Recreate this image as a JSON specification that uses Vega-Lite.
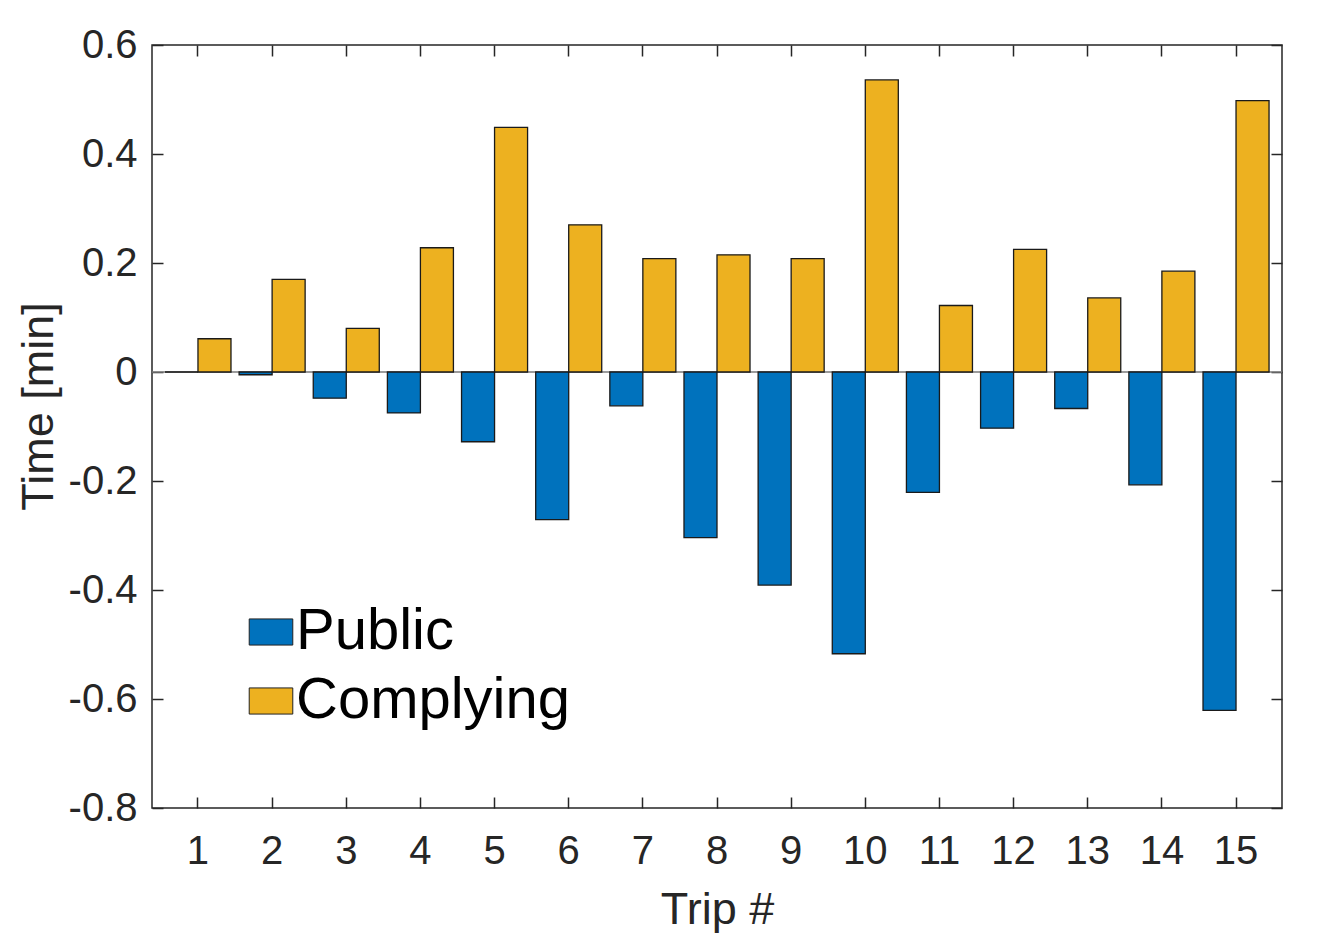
{
  "$schema": "https://vega.github.io/schema/vega-lite/v6.json",
  "width": 1130,
  "height": 763,
  "autosize": {"type": "none"},
  "padding": {"left": 152, "top": 45, "right": 56, "bottom": 127},
  "background": "white",
  "data": {
    "values": [
      {"trip": 1, "series": "Public", "time": 0},
      {"trip": 1, "series": "Complying", "time": 0.061},
      {"trip": 2, "series": "Public", "time": -0.005},
      {"trip": 2, "series": "Complying", "time": 0.17},
      {"trip": 3, "series": "Public", "time": -0.048},
      {"trip": 3, "series": "Complying", "time": 0.08},
      {"trip": 4, "series": "Public", "time": -0.075},
      {"trip": 4, "series": "Complying", "time": 0.228},
      {"trip": 5, "series": "Public", "time": -0.128},
      {"trip": 5, "series": "Complying", "time": 0.449},
      {"trip": 6, "series": "Public", "time": -0.271},
      {"trip": 6, "series": "Complying", "time": 0.27},
      {"trip": 7, "series": "Public", "time": -0.062},
      {"trip": 7, "series": "Complying", "time": 0.208},
      {"trip": 8, "series": "Public", "time": -0.304},
      {"trip": 8, "series": "Complying", "time": 0.215},
      {"trip": 9, "series": "Public", "time": -0.391},
      {"trip": 9, "series": "Complying", "time": 0.208},
      {"trip": 10, "series": "Public", "time": -0.517},
      {"trip": 10, "series": "Complying", "time": 0.536},
      {"trip": 11, "series": "Public", "time": -0.221},
      {"trip": 11, "series": "Complying", "time": 0.122},
      {"trip": 12, "series": "Public", "time": -0.103},
      {"trip": 12, "series": "Complying", "time": 0.225},
      {"trip": 13, "series": "Public", "time": -0.067},
      {"trip": 13, "series": "Complying", "time": 0.136},
      {"trip": 14, "series": "Public", "time": -0.207},
      {"trip": 14, "series": "Complying", "time": 0.185},
      {"trip": 15, "series": "Public", "time": -0.621},
      {"trip": 15, "series": "Complying", "time": 0.498}
    ]
  },
  "layer": [
    {
      "data": {"values": [{}]},
      "mark": {"type": "rule", "color": "#7a7a7a", "strokeWidth": 1.5},
      "encoding": {
        "y": {"datum": 0, "type": "quantitative", "axis": null}
      }
    },
    {
      "mark": {"type": "bar", "stroke": "#1a1a1a", "strokeWidth": 1.3},
      "encoding": {
        "x": {
          "field": "trip",
          "type": "ordinal",
          "scale": {"paddingInner": 0, "paddingOuter": 0.12},
          "axis": {
            "orient": "bottom",
            "title": "Trip #",
            "labelAngle": 0,
            "tickSize": -11,
            "labelPadding": 34,
            "titleY": 115,
            "titleBaseline": "alphabetic"
          }
        },
        "y": {
          "field": "time",
          "type": "quantitative",
          "scale": {"domain": [-0.8, 0.6], "nice": false},
          "axis": {
            "orient": "left",
            "title": "Time [min]",
            "values": [-0.8, -0.6, -0.4, -0.2, 0, 0.2, 0.4, 0.6],
            "labelExpr": "datum.value < 0 ? '-' + format(-datum.value, '.1~f') : format(datum.value, '.1~f')",
            "tickSize": -11,
            "labelPadding": 26,
            "grid": false,
            "titleX": -100,
            "titleY": 361,
            "titleBaseline": "alphabetic"
          }
        },
        "xOffset": {
          "field": "series",
          "scale": {"domain": ["Public", "Complying"], "paddingInner": 0, "paddingOuter": 0.123}
        },
        "color": {
          "field": "series",
          "type": "nominal",
          "scale": {"domain": ["Public", "Complying"], "range": ["#0072BD", "#EDB120"]},
          "legend": {
            "orient": "none",
            "legendX": 90,
            "legendY": 558,
            "title": null,
            "padding": 0,
            "symbolType": "M-1,-0.6H1V0.6H-1Z",
            "symbolSize": 1900,
            "symbolStrokeColor": "#222222",
            "symbolStrokeWidth": 1,
            "symbolOpacity": 1,
            "labelFontSize": 58,
            "labelColor": "#000000",
            "labelOffset": -4,
            "labelLimit": 400,
            "rowPadding": 11
          }
        }
      }
    },
    {
      "mark": {"type": "bar", "opacity": 0},
      "encoding": {
        "x": {
          "field": "trip",
          "type": "ordinal",
          "axis": {"orient": "top", "labels": false, "title": null, "tickSize": -11}
        },
        "y": {
          "field": "time",
          "type": "quantitative",
          "axis": {
            "orient": "right",
            "labels": false,
            "title": null,
            "tickSize": -11,
            "grid": false,
            "values": [-0.8, -0.6, -0.4, -0.2, 0, 0.2, 0.4, 0.6]
          }
        },
        "xOffset": {"field": "series"}
      }
    }
  ],
  "resolve": {"axis": {"x": "independent", "y": "independent"}},
  "config": {
    "font": "Liberation Sans",
    "view": {"stroke": "#262626", "strokeWidth": 1.5},
    "axis": {
      "domain": false,
      "tickColor": "#262626",
      "tickWidth": 1.5,
      "labelFontSize": 40,
      "labelColor": "#262626",
      "labelFont": "Liberation Sans",
      "titleFontSize": 45,
      "titleFontWeight": "normal",
      "titleColor": "#262626",
      "titleFont": "Liberation Sans",
      "grid": false
    },
    "legend": {"labelFont": "Liberation Sans"}
  }
}
